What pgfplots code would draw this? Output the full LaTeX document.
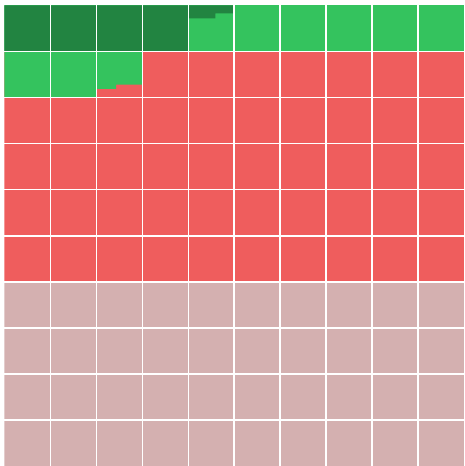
\documentclass[border=0pt]{standalone}
\usepackage{pgfplots}
\pgfplotsset{compat=1.18}
\definecolor{dkgreen}{RGB}{34,132,65}
\definecolor{ltgreen}{RGB}{52,195,94}
\definecolor{redc}{RGB}{239,93,93}
\definecolor{grayc}{RGB}{212,176,176}
\begin{document}
\begin{tikzpicture}
\useasboundingbox (-4.5pt,0pt) rectangle (459.5pt,466pt);
\begin{axis}[
  at={(0pt,0pt)}, anchor=south west,
  width=459.5pt, height=460.5pt, scale only axis,
  xmin=0, xmax=10, ymin=0, ymax=10, enlargelimits=false,
  xtick={1,...,9}, ytick={1,...,9},
  xticklabels={}, yticklabels={},
  major tick length=0pt,
  xmajorgrids, ymajorgrids,
  grid style={white, line width=1.6pt},
  axis line style={draw=none},
  axis on top,
  no markers,
]
% rows 7-10: grey
\addplot[fill=grayc, draw=none] coordinates {(0,0) (10,0) (10,4) (0,4)} -- cycle;
% rows 2-6: red
\addplot[fill=redc, draw=none] coordinates {(0,4) (10,4) (10,9) (0,9)} -- cycle;
% row 1: light green
\addplot[fill=ltgreen, draw=none] coordinates {(0,9) (10,9) (10,10) (0,10)} -- cycle;
% row 2 green, cols 1-3 with partial third cell
\addplot[fill=ltgreen, draw=none] coordinates {(0,8) (2,8) (2,8.19) (2.43,8.19) (2.43,8.28) (3,8.28) (3,9) (0,9)} -- cycle;
% dark green: row 1 cols 1-4 and partial col 5
\addplot[fill=dkgreen, draw=none] coordinates {(0,9) (4,9) (4,9.72) (4.59,9.72) (4.59,9.83) (5,9.83) (5,10) (0,10)} -- cycle;
\end{axis}
\end{tikzpicture}
\end{document}
